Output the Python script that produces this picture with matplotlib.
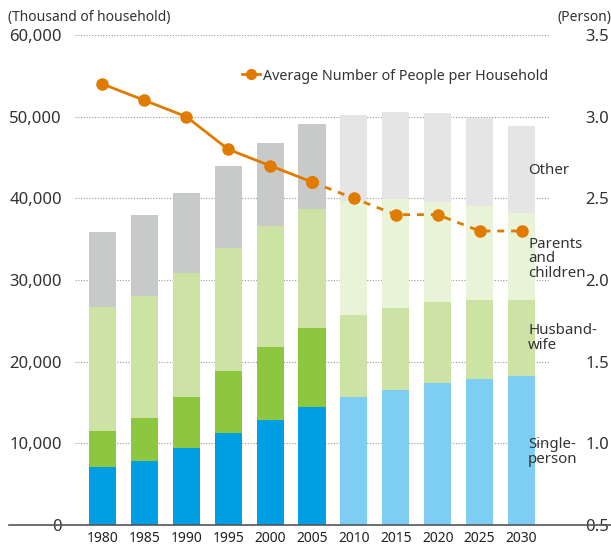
import matplotlib.pyplot as plt
from matplotlib.lines import Line2D
import numpy as np

plt.rcParams['font.family'] = ['Noto Sans', 'DejaVu Sans']

years = [1980, 1985, 1990, 1995, 2000, 2005, 2010, 2015, 2020, 2025, 2030]
singlePerson = [7105, 7895, 9390, 11239, 12911, 14457, 15707, 16563, 17334, 17922, 18237]
husbandWife = [4460, 5212, 6294, 7619, 8835, 9637, 10000, 10000, 9970, 9620, 9300]
parentsChildren = [15081, 14900, 15172, 15032, 14919, 14646, 14000, 13340, 12230, 11500, 10650]
other = [9178, 9970, 9814, 10010, 10117, 10323, 10511, 10700, 10900, 10787, 10612]
avgPeople = [3.2, 3.1, 3.0, 2.8, 2.7, 2.6, 2.5, 2.4, 2.4, 2.3, 2.3]
nActual = 6  # 1980-2005 are census values, the rest projections

# (actual colour, projection colour)
colours = {
    "single": ("#009fe3", "#7ecef4"),
    "hw": ("#8dc63f", "#cde3a6"),
    "pc": ("#cde3a6", "#e8f3d8"),
    "other": ("#c8c9c9", "#e5e5e5"),
}
orange = "#e07b00"
textCol = "#333333"
px = 72 / 100  # points per pixel at dpi 100

fig = plt.figure(figsize=(6.11, 5.49), dpi=100)
ax = fig.add_axes([75 / 611, 24 / 549, 475 / 611, 490 / 549])

x = np.arange(len(years))
barCols = lambda key: [colours[key][0] if i < nActual else colours[key][1] for i in range(len(years))]

bottom = np.zeros(len(years))
for key, vals in [("single", singlePerson), ("hw", husbandWife), ("pc", parentsChildren), ("other", other)]:
    ax.bar(x, vals, width=0.645, bottom=bottom, color=barCols(key), zorder=2)
    bottom += np.array(vals)

ax.set_xlim(-0.656, 10.68)
ax.set_ylim(0, 60000)
ax.set_yticks(range(0, 60001, 10000))
ax.set_yticklabels([f"{v:,}" for v in range(0, 60001, 10000)], fontsize=12, color=textCol)
ax.set_xticks(x)
ax.set_xticklabels([str(y) for y in years], fontsize=10, color="#222222")
ax.tick_params(axis='y', length=0, pad=13 * px)
ax.tick_params(axis='x', length=0, pad=6 * px)
ax.grid(axis='y', color="#999999", linestyle=(0, (1, 1.5)), linewidth=0.8, zorder=0)
for s in ax.spines.values():
    s.set_visible(False)

ax2 = ax.twinx()
ax2.set_ylim(0.5, 3.5)
ax2.set_yticks([0.5, 1.0, 1.5, 2.0, 2.5, 3.0, 3.5])
ax2.set_yticklabels(["0.5", "1.0", "1.5", "2.0", "2.5", "3.0", "3.5"], fontsize=12, color=textCol, ha='right')
ax2.tick_params(axis='y', length=0, pad=59 * px)
for s in ax2.spines.values():
    s.set_visible(False)

ax2.plot(x[:nActual], avgPeople[:nActual], color=orange, linewidth=2, marker='o', markersize=8, zorder=5)
ax2.plot(x[nActual - 1:], avgPeople[nActual - 1:], color=orange, linewidth=2, linestyle=(0, (2.5, 2.5)),
         marker='o', markersize=8, zorder=5)
ax2.plot(x[nActual - 1], avgPeople[nActual - 1], 'o', color=orange, markersize=8, zorder=6)

handle = Line2D([], [], color=orange, linewidth=2, marker='o', markersize=7)
ax2.legend([handle], ["Average Number of People per Household"], loc='center left',
           bbox_to_anchor=(229 / 611, 1 - 76 / 549), bbox_transform=fig.transFigure, frameon=False,
           handlelength=1.3, handletextpad=0.15, fontsize=10.3, labelcolor=textCol)

# series labels on the right
labelX = 528 / 611
for text, ypix in [("Other", 170), ("Parents\nand\nchildren", 259), ("Husband-\nwife", 338), ("Single-\nperson", 452)]:
    fig.text(labelX, 1 - ypix / 549, text, fontsize=10.8, color=textCol, va='center', ha='left',
             linespacing=0.95)

fig.text(8 / 611, 1 - 18 / 549, "(Thousand of household)", fontsize=10, color=textCol, va='center')
fig.text(1.0, 1 - 18 / 549, "(Person)", fontsize=10, color=textCol, va='center', ha='right')

# baseline across the whole width
fig.add_artist(Line2D([9 / 611, 1.0], [24 / 549, 24 / 549], color="#555555", linewidth=1.2))

fig.savefig("out.png", dpi=100)
